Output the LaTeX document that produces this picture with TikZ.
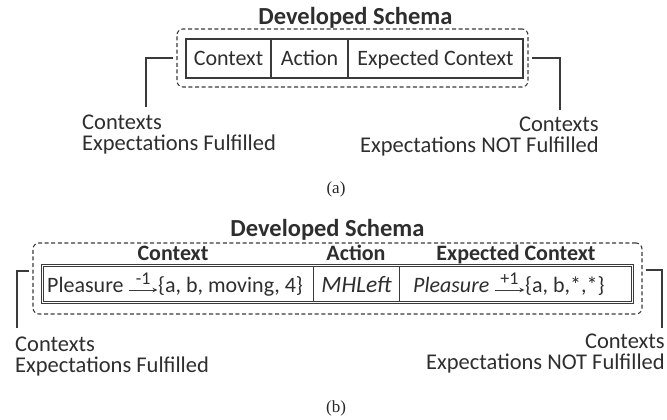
\documentclass[tikz,border=0pt]{standalone}
\usepackage{fontspec}
\setmainfont{Carlito}
\newfontfamily\capfont{Liberation Serif}
\usetikzlibrary{arrows.meta}

\definecolor{ink}{HTML}{2E2E2E}
\definecolor{rulec}{HTML}{3A3A3A}

\begin{document}
\begin{tikzpicture}[x=1pt,y=-1pt,
  font=\fontsize{22}{21}\selectfont, text=ink,
  dashbox/.style={draw=rulec, line width=1.1pt, dash pattern=on 4pt off 2.6pt,
                  rounded corners=6pt, inner sep=0pt},
  cell/.style={draw=rulec, line width=1.4pt, inner sep=0pt, minimum height=39pt,
               text height=16pt, text depth=2pt},
  bcell/.style={inner sep=0pt, minimum height=38pt},
  frameline/.style={draw=rulec, line width=0.9pt},
  divider/.style={draw=rulec, line width=1.1pt},
  celltxt/.style={inner sep=0pt, anchor=base west},
  valedge/.style={draw=rulec, line width=1pt, -{Stealth[length=5pt,width=4.5pt]}},
  vallabel/.style={inner sep=0pt, anchor=base, yshift=6pt, font=\fontsize{18}{18}\selectfont},
  schematitle/.style={font=\fontsize{24.5}{24}\selectfont\bfseries, anchor=base},
  colhead/.style={font=\fontsize{22}{22}\selectfont\bfseries, anchor=base},
  lead/.style={draw=rulec, line width=1.3pt, shorten <=3pt},
  sidelabel/.style={inner sep=0pt, font=\fontsize{22.5}{21}\selectfont},
  caption/.style={font=\capfont\fontsize{17}{17}\selectfont, text=black!85}]
\useasboundingbox (0,0) rectangle (667,420);

% ---------------- (a) ----------------
\node[dashbox, minimum width=351pt, minimum height=58pt] (aBox) at (352.5,58) {};
\node[schematitle] (aTitle) at (355.5,25) {Developed Schema};
\node[cell, minimum width=85pt]  (aCtx) at (228.5,58.5) {Context};
\node[cell, minimum width=77pt]  (aAct) at (309.5,58.5) {Action};
\node[cell, minimum width=175pt] (aExp) at (435.5,58.5) {Expected Context};

\node[sidelabel, anchor=north west, align=left]  (aFul) at (82,115)  {Contexts\\Expectations Fulfilled};
\node[sidelabel, anchor=north east, align=right] (aNot) at (599,117) {Contexts\\Expectations NOT Fulfilled};
\coordinate (aFulTip) at (146,107);
\coordinate (aNotTip) at (560,110);
\draw[lead] (aBox.west) -| (aFulTip);
\draw[lead] (aBox.east) -| (aNotTip);

\node[caption] (aCap) at (336,189) {(a)};

% ---------------- (b) ----------------
\node[dashbox, minimum width=609pt, minimum height=71pt] (bBox) at (337.5,278.5) {};
\node[schematitle] (bTitle) at (327.5,236) {Developed Schema};
\node[colhead] (bhCtx) at (173,260) {Context};
\node[colhead] (bhAct) at (356,260) {Action};
\node[colhead] (bhExp) at (516,260) {Expected Context};

% table with a doubled outer frame and single dividers
\node[bcell, minimum width=591pt] (bTab) at (337.5,284) {};
\draw[frameline] (bTab.north west) rectangle (bTab.south east);
\draw[frameline] ([shift={(1.7pt,-1.7pt)}]bTab.north west) rectangle ([shift={(-1.7pt,1.7pt)}]bTab.south east);
\node[bcell, minimum width=271pt] (bCtx) at (177.5,284) {};
\node[bcell, minimum width=86pt]  (bAct) at (356,284) {};
\node[bcell, minimum width=234pt] (bExp) at (516,284) {};
\draw[divider] ([yshift=-1.7pt]bCtx.north east) -- ([yshift=1.7pt]bCtx.south east);
\draw[divider] ([yshift=-1.7pt]bAct.north east) -- ([yshift=1.7pt]bAct.south east);

% context cell: Pleasure --(-1)--> {a, b, moving, 4}
\node[celltxt] (bPl)  at (47,292)  {Pleasure};
\node[celltxt] (bSet) at (158,292) {\{a, b, moving, 4\}};
\draw[valedge] ([xshift=5pt,yshift=2pt]bPl.base east) -- ([xshift=-0.5pt,yshift=2pt]bSet.base west)
  node[midway, vallabel] {-1};

% action cell
\node[celltxt, anchor=base, font=\fontsize{23.5}{22}\selectfont\itshape] (bMH) at (356.5,292) {MHLeft};

% expected context cell: Pleasure --(+1)--> {a, b,*,*}
\node[celltxt, font=\fontsize{22}{21}\selectfont\itshape] (bEPl) at (413,292) {Pleasure};
\node[celltxt] (bESet) at (525,292) {\{a, b,*,*\}};
\draw[valedge] ([xshift=5pt,yshift=2pt]bEPl.base east) -- ([xshift=-0.5pt,yshift=2pt]bESet.base west)
  node[midway, vallabel] {+1};

\node[sidelabel, anchor=north west, align=left]  (bFul) at (15,337)  {Contexts\\Expectations Fulfilled};
\node[sidelabel, anchor=north east, align=right] (bNot) at (665,334) {Contexts\\Expectations NOT Fulfilled};
\coordinate (bFulTip) at (17,328);
\coordinate (bNotTip) at (662,328);
\draw[lead] ([yshift=7.5pt]bBox.west) -| (bFulTip);
\draw[lead] ([yshift=8.5pt]bBox.east) -| (bNotTip);

\node[caption] (bCap) at (336,408) {(b)};
\end{tikzpicture}
\end{document}
